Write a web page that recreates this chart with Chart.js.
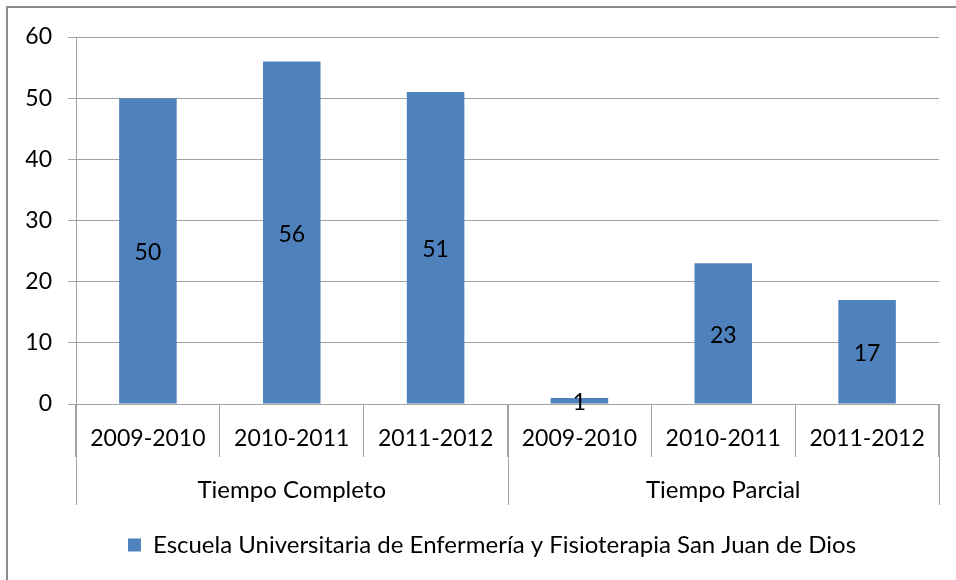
<!DOCTYPE html>
<html lang="es">
<head>
    <meta charset="UTF-8">
    <title>Tiempo Completo / Tiempo Parcial</title>
    <script src="https://cdn.jsdelivr.net/npm/chart.js@4.4.0/dist/chart.umd.min.js"></script>
    <style>
        body {
            margin: 0;
            background: #fff;
        }
        .wrap {
            position: relative;
            width: 956px;
            height: 580px;
            overflow: hidden;
        }
        .frame {
            position: absolute;
            left: 6px;
            top: 6px;
            width: 980px;
            height: 600px;
            border: 2px solid #8c8c8c;
        }
        canvas {
            position: absolute;
            left: 0;
            top: 0;
        }
    </style>
</head>
<body>
    <div class="wrap">
        <div class="frame"></div>
        <canvas id="chart" width="956" height="580"></canvas>
    </div>
    <script>
        var groups = ['Tiempo Completo', 'Tiempo Parcial'];
        var years = ['2009-2010', '2010-2011', '2011-2012'];
        var seriesName = 'Escuela Universitaria de Enfermería y Fisioterapia San Juan de Dios';
        var values = [50, 56, 51, 1, 23, 17];

        var labels = [];
        groups.forEach(function(g) {
            years.forEach(function(y) { labels.push(y); });
        });

        var FONT = 'Lato, "Open Sans", sans-serif';
        var GRID = '#a3a3a3';

        // value labels in the middle of each bar + outer category level
        var extras = {
            id: 'extras',
            afterLayout: function(chart) {
                // legend sits a bit right of the canvas centre in the original
                if (chart.legend) chart.legend.left += 45;
            },
            afterDatasetsDraw: function(chart) {
                var ctx = chart.ctx;
                var meta = chart.getDatasetMeta(0);
                ctx.save();
                ctx.font = '23px ' + FONT;
                ctx.fillStyle = '#000';
                ctx.textAlign = 'center';
                ctx.textBaseline = 'middle';
                meta.data.forEach(function(bar, i) {
                    ctx.fillText(String(values[i]), bar.x, (bar.y + bar.base) / 2 + 2);
                });
                ctx.restore();
            },
            afterDraw: function(chart) {
                var ctx = chart.ctx;
                var xs = chart.scales.x;
                var half = (xs.getPixelForValue(1) - xs.getPixelForValue(0)) / 2;
                var top = chart.chartArea.bottom;
                ctx.save();
                ctx.strokeStyle = GRID;
                ctx.lineWidth = 1;
                for (var g = 0; g <= groups.length; g++) {
                    var idx = g * years.length;
                    var px = Math.round(xs.getPixelForValue(Math.min(idx, labels.length - 1)) +
                        (idx < labels.length ? -half : half)) + 0.5;
                    ctx.beginPath();
                    ctx.moveTo(px, top);
                    ctx.lineTo(px, 505);
                    ctx.stroke();
                }
                ctx.font = '24px ' + FONT;
                ctx.fillStyle = '#000';
                ctx.textAlign = 'center';
                ctx.textBaseline = 'middle';
                groups.forEach(function(name, g) {
                    var a = xs.getPixelForValue(g * years.length);
                    var b = xs.getPixelForValue(g * years.length + years.length - 1);
                    ctx.fillText(name, (a + b) / 2, 490);
                });
                ctx.restore();
            }
        };

        new Chart(document.getElementById('chart'), {
            type: 'bar',
            data: {
                labels: labels,
                datasets: [{
                    label: seriesName,
                    data: values,
                    backgroundColor: '#4f81bd',
                    barPercentage: 0.4,
                    categoryPercentage: 1.0
                }]
            },
            options: {
                responsive: false,
                animation: false,
                layout: { padding: { left: 0, top: 37, right: 17, bottom: 13 } },
                plugins: {
                    tooltip: { enabled: false },
                    legend: {
                        position: 'bottom',
                        labels: {
                            boxWidth: 13,
                            boxHeight: 13,
                            color: '#000',
                            font: { family: FONT, size: 24 }
                        }
                    }
                },
                scales: {
                    y: {
                        min: 0,
                        max: 60,
                        ticks: {
                            stepSize: 10,
                            padding: 16,
                            color: '#000',
                            font: { family: FONT, size: 23 }
                        },
                        grid: { color: GRID, tickLength: 8 },
                        border: { color: GRID },
                        afterFit: function(s) { s.width = 76; }
                    },
                    x: {
                        grid: {
                            offset: true,
                            drawOnChartArea: false,
                            tickLength: 53,
                            color: GRID
                        },
                        border: { color: GRID },
                        ticks: {
                            padding: -32,
                            maxRotation: 0,
                            autoSkip: false,
                            color: '#000',
                            font: { family: FONT, size: 23 }
                        },
                        afterFit: function(s) { s.height = 119; }
                    }
                }
            },
            plugins: [extras]
        });
    </script>
</body>
</html>
